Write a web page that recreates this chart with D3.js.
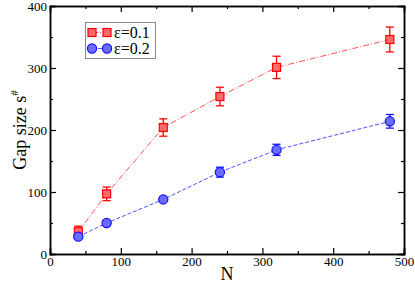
<!DOCTYPE html>
<html>
<head>
<meta charset="utf-8">
<script src="https://cdn.jsdelivr.net/npm/d3@7"></script>
<style>
  body { margin: 0; background: #fff; }
  svg { display: block; font-family: "Liberation Serif", "Times New Roman", serif; }
</style>
</head>
<body>
<svg></svg>
<script>
// data
const sizesN = [40, 80, 160, 240, 320, 480];
const gapEps01 = [36, 97, 204, 254, 301, 346];
const errEps01 = [9, 11, 14, 15, 18, 20];
const gapEps02 = [28, 50, 88, 132, 168, 214];
const errEps02 = [3, 4, 3, 8, 9, 11];
const xTicks = [0, 100, 200, 300, 400, 500];
const yTicks = [0, 100, 200, 300, 400];

let width = 415;
let height = 283;
let margin = {left: 50, right: 11, top: 6, bottom: 29};

let svg = d3.select('svg')
    .attr('width', width)
    .attr('height', height);

let xScale = d3.scaleLinear()
    .domain([0, 500])
    .range([margin.left, width - margin.right]);

let yScale = d3.scaleLinear()
    .domain([0, 400])
    .range([height - margin.bottom, margin.top]);

let series = [
    {name: 'ε=0.1', values: gapEps01, errs: errEps01, stroke: '#ff0000', fill: '#ff6a6a', line: '#ff5050', dash: '6,2,1,2', shape: 'square'},
    {name: 'ε=0.2', values: gapEps02, errs: errEps02, stroke: '#1010ff', fill: '#6b6bff', line: '#5050ff', dash: '4,2', shape: 'circle'}
];

// axes: ticks inward on all four sides
let drawAxes = () => {
    let major = 6, minor = 3;
    let minorX = d3.range(50, 500, 100);
    let minorY = d3.range(50, 400, 100);

    svg.append('g')
        .attr('transform', 'translate(0,' + (height - margin.bottom) + ')')
        .call(d3.axisBottom(xScale).tickValues(xTicks).tickSize(-major).tickPadding(3));
    svg.append('g')
        .attr('transform', 'translate(0,' + margin.top + ')')
        .call(d3.axisTop(xScale).tickValues(xTicks).tickSize(-major).tickFormat(''));
    svg.append('g')
        .attr('transform', 'translate(' + margin.left + ',0)')
        .call(d3.axisLeft(yScale).tickValues(yTicks).tickSize(-major).tickPadding(3));
    svg.append('g')
        .attr('transform', 'translate(' + (width - margin.right) + ',0)')
        .call(d3.axisRight(yScale).tickValues(yTicks).tickSize(-major).tickFormat(''));

    svg.append('g')
        .attr('transform', 'translate(0,' + (height - margin.bottom) + ')')
        .call(d3.axisBottom(xScale).tickValues(minorX).tickSize(-minor).tickFormat(''));
    svg.append('g')
        .attr('transform', 'translate(0,' + margin.top + ')')
        .call(d3.axisTop(xScale).tickValues(minorX).tickSize(-minor).tickFormat(''));
    svg.append('g')
        .attr('transform', 'translate(' + margin.left + ',0)')
        .call(d3.axisLeft(yScale).tickValues(minorY).tickSize(-minor).tickFormat(''));
    svg.append('g')
        .attr('transform', 'translate(' + (width - margin.right) + ',0)')
        .call(d3.axisRight(yScale).tickValues(minorY).tickSize(-minor).tickFormat(''));

    svg.selectAll('.domain').attr('stroke', '#000').attr('stroke-width', 1.5);
    svg.selectAll('.tick line').attr('stroke', '#000').attr('stroke-width', 1.2);
    svg.selectAll('.tick text')
        .attr('font-family', '"Liberation Serif", serif')
        .attr('font-size', 13)
        .attr('fill', '#000');

    svg.append('text')
        .attr('x', xScale(250))
        .attr('y', 280)
        .attr('text-anchor', 'middle')
        .attr('font-size', 18)
        .text('N');

    let yl = svg.append('text')
        .attr('transform', 'translate(26,' + yScale(200) + ') rotate(-90)')
        .attr('text-anchor', 'middle')
        .attr('font-size', 18);
    yl.append('tspan').text('Gap size s');
    yl.append('tspan').attr('dy', -8).attr('font-size', 11).text('#');
};

let drawMarker = (g, s, x, y) => {
    if (s.shape === 'square') {
        g.append('rect')
            .attr('x', x - 4).attr('y', y - 4)
            .attr('width', 8).attr('height', 8)
            .attr('fill', s.fill).attr('stroke', s.stroke).attr('stroke-width', 1.2);
    } else {
        g.append('circle')
            .attr('cx', x).attr('cy', y).attr('r', 4.6)
            .attr('fill', s.fill).attr('stroke', s.stroke).attr('stroke-width', 1.2);
    }
};

let drawSeries = () => {
    series.forEach((s) => {
        let pts = sizesN.map((n, i) => [n, s.values[i], s.errs[i]]);
        let line = d3.line()
            .x((d) => xScale(d[0]))
            .y((d) => yScale(d[1]));

        svg.append('path')
            .datum(pts)
            .attr('d', line)
            .attr('fill', 'none')
            .attr('stroke', s.line)
            .attr('stroke-width', 1)
            .attr('stroke-dasharray', s.dash);

        let g = svg.append('g');
        pts.forEach((d) => {
            let x = xScale(d[0]);
            let y0 = yScale(d[1] - d[2]);
            let y1 = yScale(d[1] + d[2]);
            g.append('line').attr('x1', x).attr('x2', x).attr('y1', y0).attr('y2', y1)
                .attr('stroke', s.stroke).attr('stroke-width', 1.3);
            [y0, y1].forEach((yy) => {
                g.append('line').attr('x1', x - 4).attr('x2', x + 4).attr('y1', yy).attr('y2', yy)
                    .attr('stroke', s.stroke).attr('stroke-width', 1.3);
            });
            drawMarker(g, s, x, yScale(d[1]));
        });
    });
};

let drawLegend = () => {
    let g = svg.append('g');
    g.append('rect')
        .attr('x', 85.5).attr('y', 22.5)
        .attr('width', 70).attr('height', 36)
        .attr('fill', '#fff')
        .attr('stroke', '#888')
        .attr('stroke-width', 1);

    series.forEach((s, i) => {
        let y = 32.5 + i * 16;
        g.append('line')
            .attr('x1', 92).attr('x2', 107).attr('y1', y).attr('y2', y)
            .attr('stroke', s.line).attr('stroke-width', 1)
            .attr('stroke-dasharray', s.dash);
        drawMarker(g, s, 92, y);
        drawMarker(g, s, 107, y);
        g.append('text')
            .attr('x', 114)
            .attr('y', y + 5.5)
            .attr('font-size', 16)
            .text(s.name);
    });
};

drawAxes();
drawSeries();
drawLegend();
</script>
</body>
</html>
